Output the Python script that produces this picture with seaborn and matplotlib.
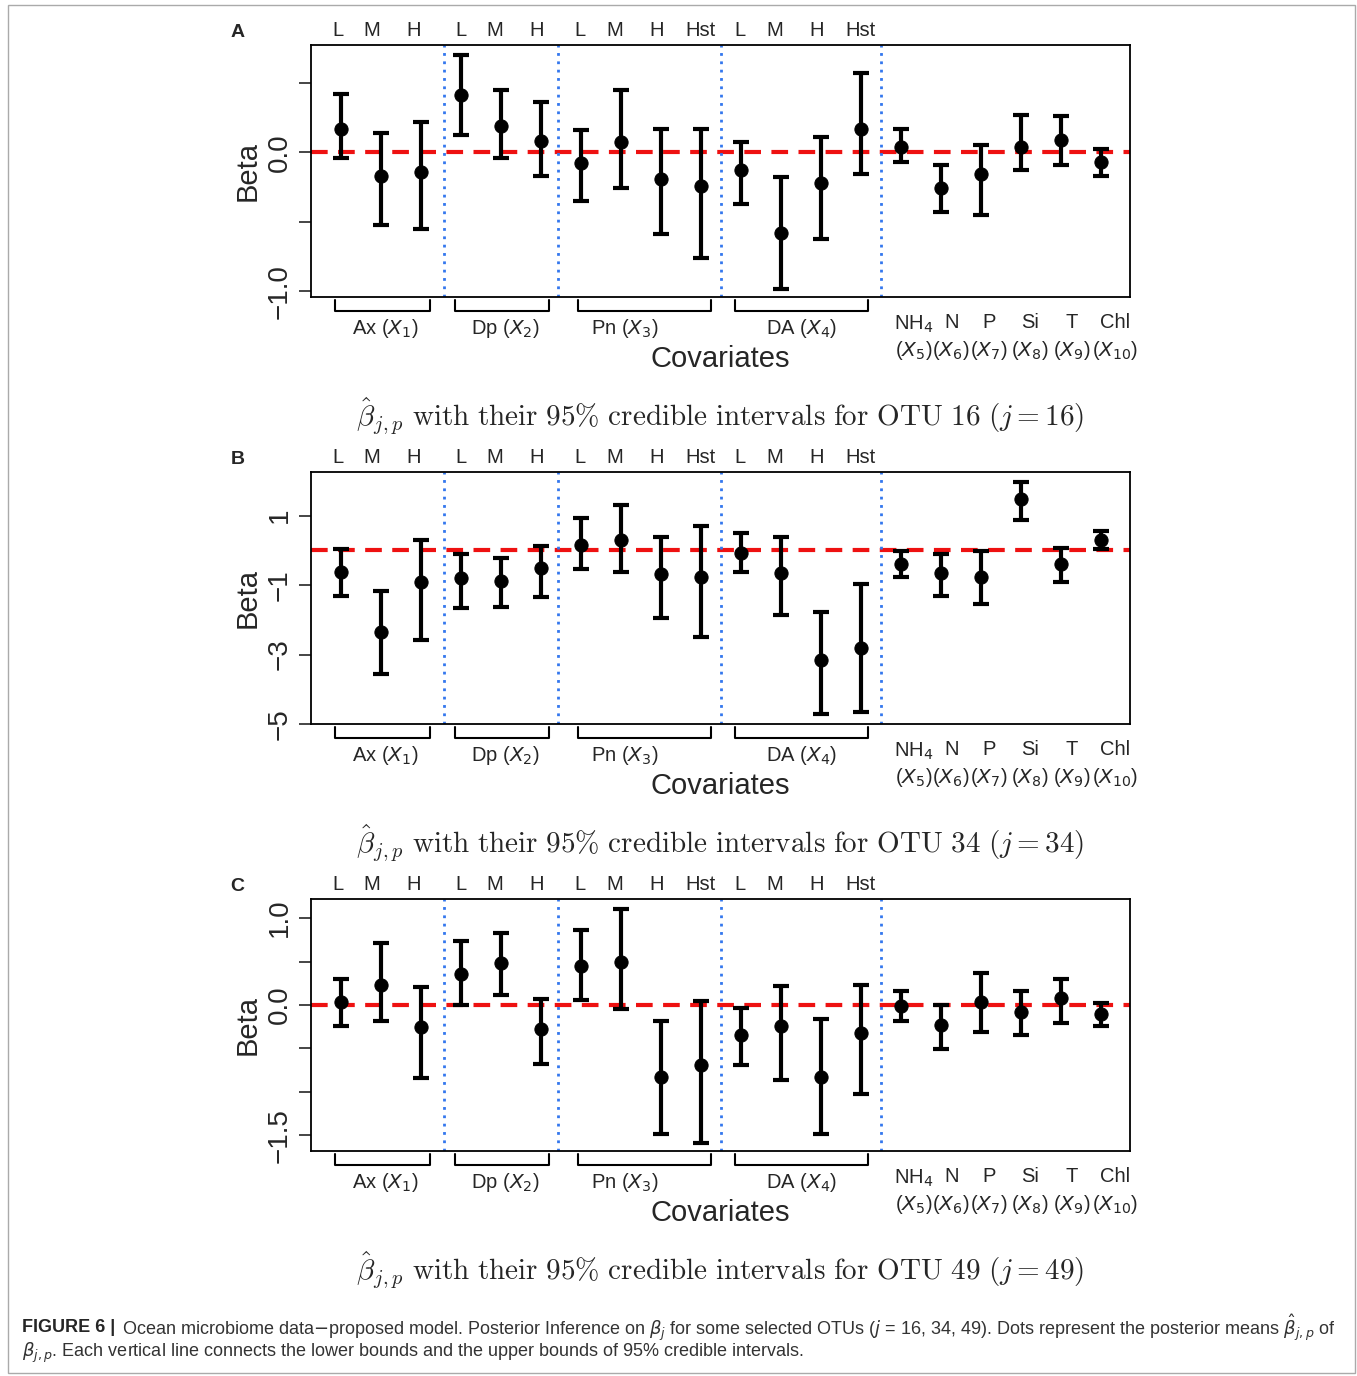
import numpy as np
import pandas as pd
import seaborn as sns
import matplotlib.pyplot as plt
import matplotlib.transforms as mtrans

sns.set_theme(style="white")
plt.rcParams['font.family'] = ['Liberation Sans', 'DejaVu Sans']
plt.rcParams['mathtext.fontset'] = 'cm'

# 数据：后验均值与95%可信区间
pos = np.arange(1, 21)
top_labels = ['L', 'M', 'H', 'L', 'M', 'H', 'L', 'M', 'H', 'Hst', 'L', 'M', 'H', 'Hst']
groups = ['Ax ($X_1$)', 'Dp ($X_2$)', 'Pn ($X_3$)', 'DA ($X_4$)']
single_top = ['NH$_4$', 'N', 'P', 'Si', 'T', 'Chl']
single_bot = ['($X_5$)', '($X_6$)', '($X_7$)', '($X_8$)', '($X_9$)', '($X_{10}$)']

mean_16 = [0.17, -0.17, -0.14, 0.41, 0.19, 0.08, -0.08, 0.07, -0.19, -0.24,
           -0.13, -0.58, -0.22, 0.17, 0.04, -0.26, -0.16, 0.04, 0.09, -0.07]
low_16 = [-0.04, -0.52, -0.55, 0.12, -0.04, -0.17, -0.35, -0.26, -0.59, -0.76,
          -0.37, -0.98, -0.62, -0.16, -0.07, -0.43, -0.45, -0.13, -0.09, -0.17]
high_16 = [0.42, 0.14, 0.22, 0.70, 0.45, 0.36, 0.16, 0.45, 0.17, 0.17,
           0.07, -0.18, 0.11, 0.57, 0.17, -0.09, 0.05, 0.27, 0.26, 0.02]

mean_34 = [-0.63, -2.34, -0.91, -0.80, -0.89, -0.51, 0.17, 0.31, -0.69, -0.77,
           -0.06, -0.66, -3.17, -2.80, -0.40, -0.66, -0.77, 1.49, -0.40, 0.31]
low_34 = [-1.31, -3.57, -2.57, -1.66, -1.63, -1.34, -0.54, -0.63, -1.94, -2.49,
          -0.63, -1.86, -4.71, -4.66, -0.77, -1.31, -1.54, 0.89, -0.91, 0.03]
high_34 = [0.03, -1.17, 0.31, -0.09, -0.23, 0.14, 0.94, 1.31, 0.40, 0.69,
           0.49, 0.40, -1.77, -0.97, -0.03, -0.09, -0.03, 1.97, 0.06, 0.57]

mean_49 = [0.03, 0.23, -0.25, 0.36, 0.48, -0.28, 0.45, 0.49, -0.83, -0.69,
           -0.34, -0.24, -0.83, -0.32, -0.01, -0.23, 0.03, -0.08, 0.08, -0.10]
low_49 = [-0.24, -0.18, -0.84, 0.00, 0.11, -0.68, 0.06, -0.05, -1.48, -1.59,
          -0.69, -0.86, -1.49, -1.02, -0.18, -0.51, -0.31, -0.34, -0.21, -0.24]
high_49 = [0.30, 0.71, 0.21, 0.74, 0.83, 0.07, 0.86, 1.10, -0.18, 0.05,
           -0.03, 0.22, -0.16, 0.23, 0.16, 0.00, 0.37, 0.16, 0.30, 0.02]

panels = [
    ('A', 16, mean_16, low_16, high_16, (-1.04, 0.77), [-1.0, -0.5, 0.0, 0.5], ['\u22121.0', '', '0.0', '']),
    ('B', 34, mean_34, low_34, high_34, (-4.96, 2.26), [-5, -3, -1, 1], ['\u22125', '\u22123', '\u22121', '1']),
    ('C', 49, mean_49, low_49, high_49, (-1.68, 1.22), [-1.5, -1.0, -0.5, 0.0, 0.5, 1.0],
     ['\u22121.5', '', '', '0.0', '', '1.0']),
]

fig = plt.figure(figsize=(13.57, 13.76), dpi=100)
fig.patches.append(plt.Rectangle((8 / 1357, 3 / 1376), 1347 / 1357, 1368 / 1376, transform=fig.transFigure,
                                 fill=False, edgecolor='#aaaaaa', linewidth=1))

bottoms = [1 - 297 / 1376, 1 - 724 / 1376, 1 - 1151 / 1376]
px = lambda p: (p - 341) / 40 + 1
sans_math = dict(math_fontfamily='dejavusans')

for (letter, otu, m, lo, hi, ylim, yt, ytl), b in zip(panels, bottoms):
    ax = fig.add_axes([311 / 1357, b, 819 / 1357, 252 / 1376])
    df = pd.DataFrame({'x': pos, 'mean': m, 'low': lo, 'high': hi})
    ax.axhline(0, color='#ee1111', lw=3, ls=(0, (4, 2.5)), zorder=1)
    for v in [3.57, 6.43, 10.5, 14.5]:
        ax.axvline(v, color='#3377ee', lw=2, ls=(0, (1, 2)), zorder=1)
    ax.errorbar(df['x'], df['mean'], yerr=[df['mean'] - df['low'], df['high'] - df['mean']],
                fmt='none', ecolor='black', elinewidth=3, capsize=6, capthick=3, zorder=2)
    sns.scatterplot(data=df, x='x', y='mean', color='black', s=90, edgecolor='black', zorder=3, ax=ax)
    ax.set_xlim(0.25, 20.72)
    ax.set_ylim(*ylim)
    ax.set_xticks([])
    ax.set_yticks(yt)
    ax.set_yticklabels(ytl, rotation=90, va='center', fontsize=20)
    ax.tick_params(axis='y', length=9, width=1.2, left=True, direction='out', pad=4)
    for s in ax.spines.values():
        s.set_color('black')
        s.set_linewidth(1.3)
    ax.set_xlabel('')
    ax.set_ylabel('Beta', fontsize=21, labelpad=4)

    tr = mtrans.blended_transform_factory(ax.transData, ax.transAxes)
    for x, t in zip([338, 372, 414, 461, 495, 537, 580, 615, 657, 700, 740, 775, 817, 860], top_labels):
        ax.text(px(x), 1.02, t, transform=tr, ha='center', va='bottom', fontsize=14.5)
    for (x0, x1), g, c in zip([(0.85, 3.22), (3.85, 6.2), (6.92, 10.25), (10.85, 14.18)], groups,
                              [2.1, 5.1, 8.1, 12.5]):
        ax.plot([x0, x0, x1, x1], [-0.01, -0.055, -0.055, -0.01], transform=tr, color='black',
                lw=1.5, clip_on=False)
        ax.text(c, -0.08, g, transform=tr, ha='center', va='top', fontsize=14.5, **sans_math)
    for x, t1, t2 in zip([914, 951, 989, 1030, 1072, 1115], single_top, single_bot):
        ax.text(px(x), -0.065, t1, transform=tr, ha='center', va='top', fontsize=14.5, **sans_math)
        ax.text(px(x), -0.165, t2, transform=tr, ha='center', va='top', fontsize=14.5, **sans_math)
    ax.text(px(720), -0.19, 'Covariates', transform=tr, ha='center', va='top', fontsize=21)
    title = (r'$\hat{\beta}_{j,p}\ \mathrm{with\ their\ 95\%\ credible\ intervals\ for\ OTU\ '
             + str(otu) + r'}\ (j=' + str(otu) + r')$')
    ax.text(px(720), -0.39, title, transform=tr, ha='center', va='top', fontsize=21)
    ax.text(-0.09, 1.05, letter, transform=ax.transAxes, ha='center', va='center', fontsize=14,
            fontweight='bold')

fig.text(22 / 1357, 1 - 1328 / 1376, 'FIGURE 6 |', fontsize=13, fontweight='bold', va='center')
fig.text(122 / 1357, 1 - 1328 / 1376,
         r'Ocean microbiome data$-$proposed model. Posterior Inference on $\beta_j$ for some selected OTUs '
         r'($j$ = 16, 34, 49). Dots represent the posterior means $\hat{\beta}_{j,p}$ of',
         fontsize=13, va='center', color='#333333', **sans_math)
fig.text(22 / 1357, 1 - 1353 / 1376,
         r'$\beta_{j,p}$. Each vertical line connects the lower bounds and the upper bounds of 95% credible intervals.',
         fontsize=13, va='center', color='#333333', **sans_math)

plt.savefig('out.png', dpi=100)
